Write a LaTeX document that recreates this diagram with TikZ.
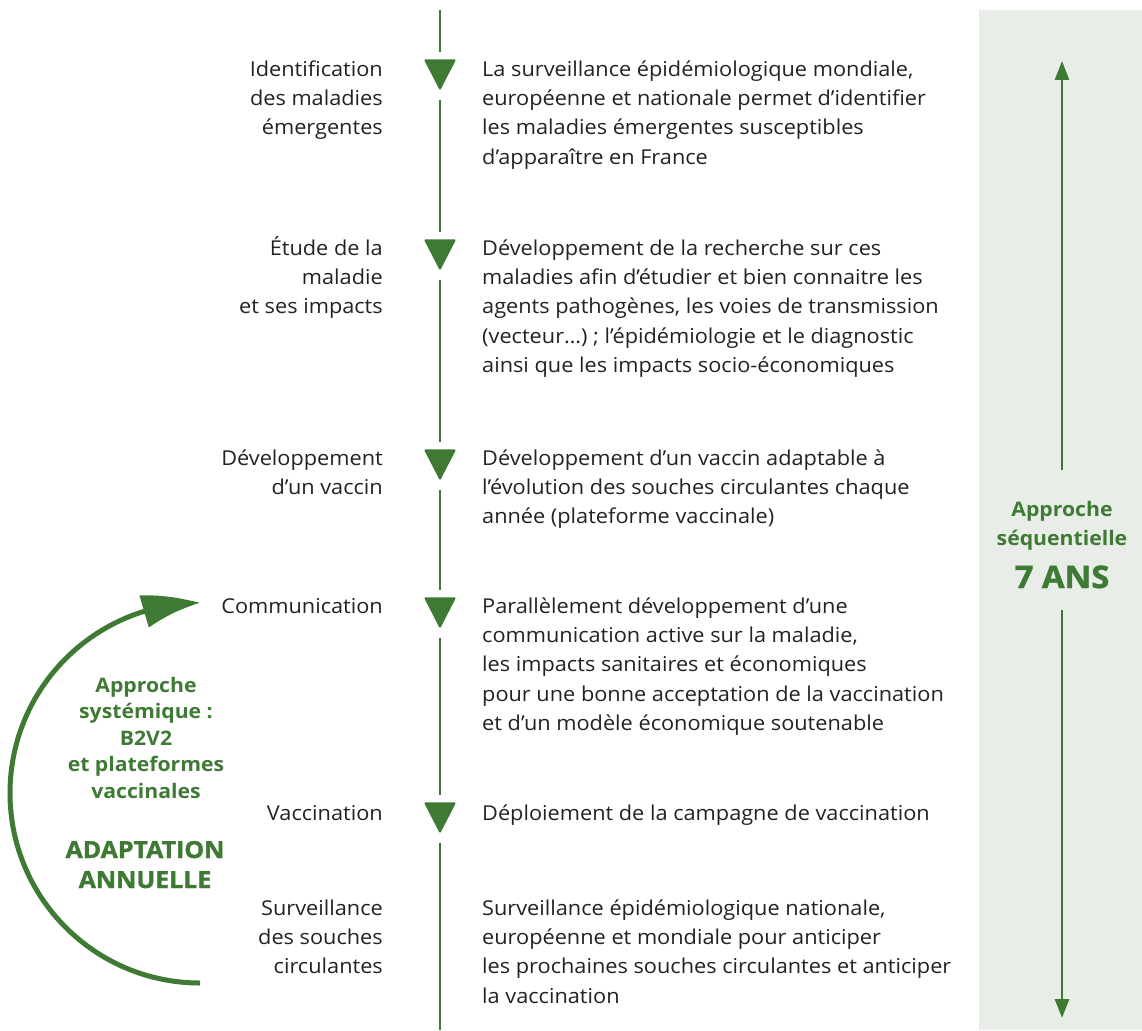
\documentclass[tikz,border=0pt]{standalone}
\usepackage{fontspec}
\setmainfont{Open Sans}[FakeStretch=1.06]
\newfontfamily\heavyfont{Open Sans}[FakeStretch=1.06, BoldFeatures={FakeBold=1.5, FakeStretch=1.06}]
\usetikzlibrary{arrows.meta,bending}
\definecolor{vert}{RGB}{62,122,52}
\definecolor{panneau}{RGB}{232,238,231}
\definecolor{encre}{RGB}{34,34,34}
\begin{document}
\begin{tikzpicture}[x=1pt,y=-1pt,
  lab/.style={font=\fontsize{20.5}{29.4}\selectfont, text=encre, align=right, anchor=base east, inner sep=0pt},
  desc/.style={font=\fontsize{20.5}{29.4}\selectfont, text=encre, align=left, anchor=base west, inner sep=0pt},
  tribox/.style={minimum width=32pt, minimum height=31pt, inner sep=0pt},
  trifill/.style={fill=vert, rounded corners=1.5pt},
  axe/.style={draw=vert, line width=2.8pt},
  green/.style={text=vert, align=center, inner sep=0pt, anchor=base},
]
\useasboundingbox (0,0) rectangle (1142,1030);
% right panel
\fill[panneau] (979,10) rectangle (1142,1030);

% triangles
\node[tribox] (t1) at (440,75) {};
\node[tribox] (t2) at (440,255) {};
\node[tribox] (t3) at (440,465) {};
\node[tribox] (t4) at (440,613) {};
\node[tribox] (t5) at (440,818) {};
\foreach \t in {t1,t2,t3,t4,t5}{
  \path[trifill] (\t.north west) -- (\t.north east) -- (\t.south) -- cycle;
}
\coordinate (ltop) at (440,10);
\coordinate (lbot) at (440,1030);
\draw[axe, shorten >=7pt] (ltop) -- (t1.north);
\draw[axe, shorten <=9pt, shorten >=7pt] (t1.south) -- (t2.north);
\draw[axe, shorten <=9pt, shorten >=7pt] (t2.south) -- (t3.north);
\draw[axe, shorten <=9pt, shorten >=7pt] (t3.south) -- (t4.north);
\draw[axe, shorten <=9pt, shorten >=7pt] (t4.south) -- (t5.north);
\draw[axe, shorten <=9pt] (t5.south) -- (lbot);

% left labels (anchor = baseline of last line)
\node[lab] (l1) at (383,134.8) {Identification\\des maladies\\émergentes};
\node[lab] (l2) at (383,313.8) {Étude de la\\maladie\\et ses impacts};
\node[lab] (l3) at (383,494.4) {Développement\\d’un vaccin};
\node[lab] (l4) at (383,613) {Communication};
\node[lab] (l5) at (383,820) {Vaccination};
\node[lab] (l6) at (383,973.8) {Surveillance\\des souches\\circulantes};

% descriptions
\node[desc] (d1) at (482,164.2) {La surveillance épidémiologique mondiale,\\européenne et nationale permet d’identifier\\les maladies émergentes susceptibles\\d’apparaître en France};
\node[desc] (d2) at (482,372.6) {Développement de la recherche sur ces\\maladies afin d’étudier et bien connaitre les\\agents pathogènes, les voies de transmission\\(vecteur…) ; l’épidémiologie et le diagnostic\\ainsi que les impacts socio-économiques};
\node[desc] (d3) at (482,523.8) {Développement d’un vaccin adaptable à\\l’évolution des souches circulantes chaque\\année (plateforme vaccinale)};
\node[desc] (d4) at (482,730.6) {Parallèlement développement d’une\\communication active sur la maladie,\\les impacts sanitaires et économiques\\pour une bonne acceptation de la vaccination\\et d’un modèle économique soutenable};
\node[desc] (d5) at (482,820) {Déploiement de la campagne de vaccination};
\node[desc] (d6) at (482,1003.2) {Surveillance épidémiologique nationale,\\européenne et mondiale pour anticiper\\les prochaines souches circulantes et anticiper\\la vaccination};

% right panel text and arrows
\node[green, font=\fontsize{20}{29}\selectfont\bfseries] (p1) at (1062,545) {Approche\\séquentielle};
\node[green, font=\fontsize{31}{34}\heavyfont\bfseries] (p2) at (1062,588) {7 ANS};
\coordinate (pa1) at (1062,470);
\coordinate (pb1) at (1062,61);
\coordinate (pa2) at (1062,610);
\coordinate (pb2) at (1062,1018);
\draw[axe, -{Triangle[length=19pt,width=14pt]}] (pa1) -- (pb1);
\draw[axe, -{Triangle[length=19pt,width=14pt]}] (pa2) -- (pb2);

% left cycle
\node[green, font=\fontsize{20}{26.5}\selectfont\bfseries] (c1) at (146,798) {Approche\\systémique :\\B2V2\\et plateformes\\vaccinales};
\node[green, font=\fontsize{23.5}{30}\heavyfont\bfseries] (c2) at (145,888) {ADAPTATION\\ANNUELLE};
\coordinate (arcstart) at (200,983);
\draw[vert, line width=5pt, -{Triangle[length=58pt,width=32pt,bend]}] (arcstart) arc[start angle=90, end angle=270, radius=190];
\end{tikzpicture}
\end{document}
